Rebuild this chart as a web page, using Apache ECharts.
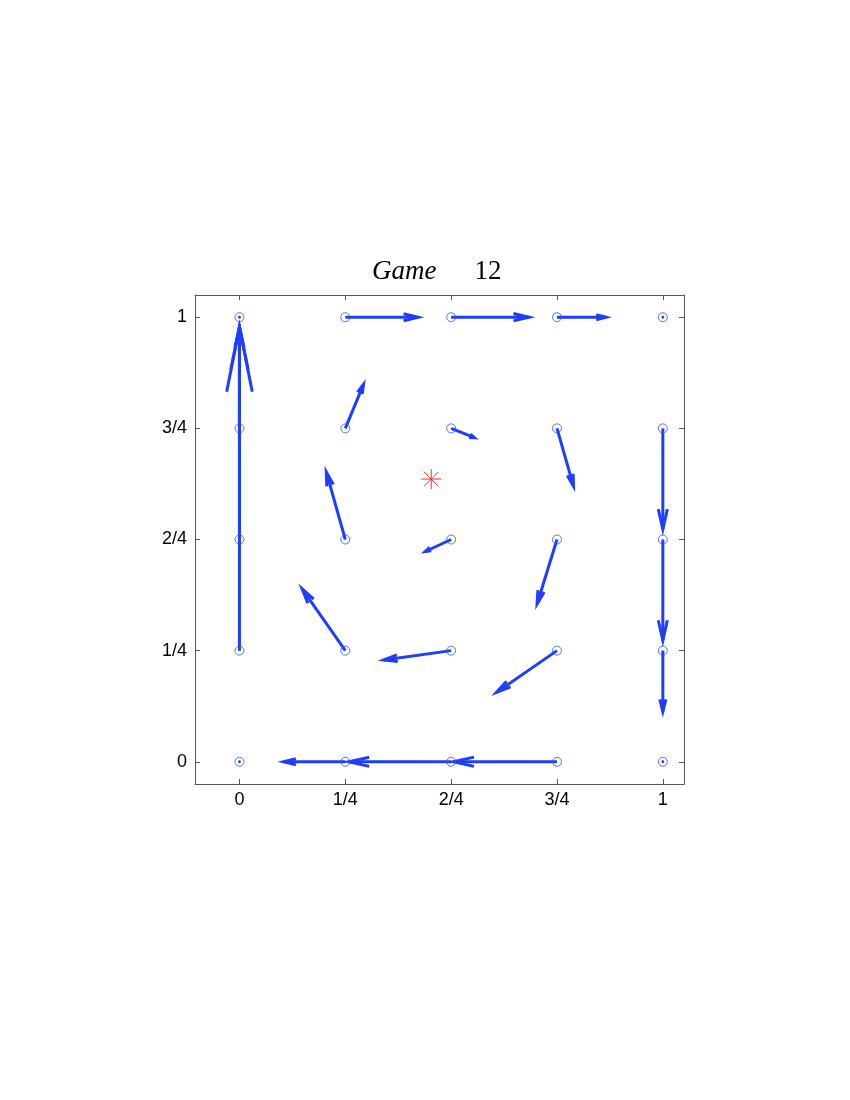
<!DOCTYPE html>
<html>
<head>
<meta charset="utf-8">
<script src="https://cdn.jsdelivr.net/npm/echarts@6/dist/echarts.min.js"></script>
<style>html,body{margin:0;padding:0;background:#fff;}#c{width:850px;height:1100px;}</style>
</head>
<body>
<div id="c"></div>
<script>
// ---- data ----
const tickValues = [0, 0.25, 0.5, 0.75, 1];
const tickLabels = ['0', '1/4', '2/4', '3/4', '1'];

// quiver: start points and vector components
const arrowX = [0, 0, 0, 0, 0, 1, 1, 0.25, 0.5, 0.75, 1, 1, 1, 0.75, 0.5, 0.25,
                0.25, 0.5, 0.75, 0.25, 0.5, 0.75, 0.25, 0.5, 0.75];
const arrowY = [0.25, 0.5, 0.75, 0, 1, 1, 0, 1, 1, 1, 0.75, 0.5, 0.25, 0, 0, 0,
                0.75, 0.75, 0.75, 0.5, 0.5, 0.5, 0.25, 0.25, 0.25];
const arrowU = [0, 0, 0, 0, 0, 0, 0, 0.172, 0.184, 0.116, 0, 0, 0, -0.245, -0.242, -0.146,
                0.043, 0.055, 0.039, -0.045, -0.061, -0.047, -0.102, -0.159, -0.143];
const arrowV = [0.728, 0.478, 0.228, 0, 0, 0, 0, 0, 0, 0, -0.227, -0.227, -0.137, 0, 0, 0,
                0.099, -0.021, -0.130, 0.152, -0.027, -0.145, 0.139, -0.021, -0.094];

// red asterisk (equilibrium)
const starX = [0.453];
const starY = [0.636];

const titleMain = 'Game';
const titleNum = '12';

// ---- chart ----
const BLUE = '#1f3dff';
const chart = echarts.init(document.getElementById('c'), null, {renderer: 'canvas'});

const quiverData = arrowX.map((x, i) => [x, arrowY[i], arrowU[i], arrowV[i]]);
const pointData = arrowX.map((x, i) => [x, arrowY[i]]);
const starData = starX.map((x, i) => [x, starY[i]]);

function labelFor(v) {
  let best = 0, bd = Infinity;
  tickValues.forEach((t, i) => { const d = Math.abs(t - v); if (d < bd) { bd = d; best = i; } });
  return tickLabels[best];
}

const axisCommon = {
  type: 'value',
  axisLine: {show: true, onZero: false, lineStyle: {color: '#555', width: 1}},
  axisTick: {show: true, inside: true, length: 5, customValues: tickValues, lineStyle: {color: '#555', width: 1}},
  splitLine: {show: false}
};

function renderArrow(params, api) {
  const x = api.value(0), y = api.value(1), u = api.value(2), v = api.value(3);
  const p0 = api.coord([x, y]);
  const p1 = api.coord([x + u, y + v]);
  const dx = p1[0] - p0[0], dy = p1[1] - p0[1];
  const L = Math.hypot(dx, dy);
  if (L < 0.5) {
    return {type: 'circle', shape: {cx: p0[0], cy: p0[1], r: 1.4}, style: {fill: BLUE}};
  }
  const ux = dx / L, uy = dy / L;
  const back = 0.2 * L, half = 0.037 * L + 0.8;
  const bx = p1[0] - ux * back, by = p1[1] - uy * back;
  const b1 = [bx - uy * half, by + ux * half];
  const b2 = [bx + uy * half, by - ux * half];
  return {
    type: 'group',
    children: [
      {type: 'line', shape: {x1: p0[0], y1: p0[1], x2: p1[0], y2: p1[1]},
       style: {stroke: BLUE, lineWidth: 3}},
      {type: 'polyline', shape: {points: [b1, p1, b2]},
       style: {stroke: BLUE, lineWidth: 3, fill: null, lineJoin: 'miter', miterLimit: 20}}
    ]
  };
}

function renderStar(params, api) {
  const c = api.coord([api.value(0), api.value(1)]);
  const r = 10, d = 7.2;
  const segs = [
    [c[0] - r, c[1], c[0] + r, c[1]],
    [c[0], c[1] - r, c[0], c[1] + r],
    [c[0] - d, c[1] - d, c[0] + d, c[1] + d],
    [c[0] - d, c[1] + d, c[0] + d, c[1] - d]
  ];
  return {
    type: 'group',
    children: segs.map(s => ({type: 'line', shape: {x1: s[0], y1: s[1], x2: s[2], y2: s[3]},
      style: {stroke: '#ff2a2a', lineWidth: 1}}))
  };
}

chart.setOption({
  animation: false,
  backgroundColor: '#ffffff',
  title: {
    text: '{i|' + titleMain + '}{n|' + titleNum + '}',
    left: 372, top: 258, padding: 0,
    textStyle: {
      fontWeight: 'normal',
      rich: {
        i: {fontFamily: 'Liberation Serif', fontStyle: 'italic', fontWeight: 'normal', fontSize: 27, color: '#000'},
        n: {fontFamily: 'Liberation Serif', fontWeight: 'normal', fontSize: 27, color: '#000', padding: [0, 0, 0, 38]}
      }
    }
  },
  grid: {left: 195, top: 295, width: 489, height: 489, containLabel: false},
  xAxis: [
    Object.assign({}, axisCommon, {
      position: 'bottom', min: -0.105, max: 1.05,
      axisLabel: {show: true, customValues: tickValues, formatter: labelFor, margin: 7,
        fontFamily: 'Liberation Sans', fontSize: 18, color: '#000'}
    }),
    Object.assign({}, axisCommon, {
      position: 'top', min: -0.105, max: 1.05, axisLabel: {show: false}
    })
  ],
  yAxis: [
    Object.assign({}, axisCommon, {
      position: 'left', min: -0.05, max: 1.05,
      axisLabel: {show: true, customValues: tickValues, formatter: labelFor, margin: 8,
        fontFamily: 'Liberation Sans', fontSize: 18, color: '#000'}
    }),
    Object.assign({}, axisCommon, {
      position: 'right', min: -0.05, max: 1.05, axisLabel: {show: false}
    })
  ],
  series: [
    {type: 'custom', xAxisIndex: 0, yAxisIndex: 0, data: quiverData, renderItem: renderArrow,
     encode: {x: 0, y: 1}, clip: false, z: 2},
    {type: 'scatter', xAxisIndex: 0, yAxisIndex: 0, data: pointData, symbol: 'circle',
     symbolSize: 9, itemStyle: {color: 'rgba(0,0,0,0)', borderColor: '#3050ff', borderWidth: 1}, z: 3,
     emphasis: {disabled: true}},
    {type: 'custom', xAxisIndex: 0, yAxisIndex: 0, data: starData, renderItem: renderStar,
     encode: {x: 0, y: 1}, clip: false, z: 4}
  ]
});
</script>
</body>
</html>
